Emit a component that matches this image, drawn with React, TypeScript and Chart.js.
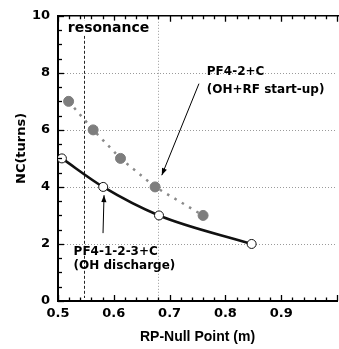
import React, { useEffect, useRef } from "react";
import { Chart, registerables } from "chart.js";

Chart.register(...registerables);

// ---- data ----
const openX = [0.507, 0.581, 0.681, 0.847];
const openY = [5, 4, 3, 2];
const filledX = [0.519, 0.563, 0.612, 0.674, 0.76];
const filledY = [7, 6, 5, 4, 3];
const xTickValues = [0.5, 0.6, 0.7, 0.8, 0.9];
const yTickValues = [0, 2, 4, 6, 8, 10];
const gridYValues = [2, 4, 6, 8];
const resonanceX = 0.547;
const markerX = 0.68;

// annotations (data coordinates)
const resonanceLabel = { text: "resonance", x: 0.5175, y: 9.55 };
const rfLabel = { lines: ["PF4-2+C", "(OH+RF start-up)"], x: 0.7667, y: [8.04, 7.4] };
const rfArrow = { from: [0.7526, 7.62], to: [0.686, 4.41] };
const ohLabel = { lines: ["PF4-1-2-3+C", "(OH discharge)"], x: 0.528, y: [1.71, 1.22] };
const ohArrow = { from: [0.5807, 2.38], to: [0.5825, 3.71] };

const FONT = '"DejaVu Sans", sans-serif';

function drawArrow(ctx: CanvasRenderingContext2D, x0: number, y0: number, x1: number, y1: number) {
  ctx.save();
  ctx.strokeStyle = "#000";
  ctx.fillStyle = "#000";
  ctx.lineWidth = 1;
  ctx.setLineDash([]);
  ctx.beginPath();
  ctx.moveTo(x0, y0);
  ctx.lineTo(x1, y1);
  ctx.stroke();
  const ang = Math.atan2(y1 - y0, x1 - x0);
  const len = 7;
  const hw = 2.6;
  const bx = x1 - len * Math.cos(ang);
  const by = y1 - len * Math.sin(ang);
  ctx.beginPath();
  ctx.moveTo(x1, y1);
  ctx.lineTo(bx + hw * Math.sin(ang), by - hw * Math.cos(ang));
  ctx.lineTo(bx - hw * Math.sin(ang), by + hw * Math.cos(ang));
  ctx.closePath();
  ctx.fill();
  ctx.restore();
}

const decor = {
  id: "decor",
  beforeDatasetsDraw(chart: any) {
    const { ctx, chartArea: a, scales } = chart;
    const x = scales.x;
    const y = scales.y;
    ctx.save();
    ctx.lineWidth = 1;
    ctx.strokeStyle = "#9a9a9a";
    ctx.setLineDash([1, 2]);
    for (const v of gridYValues) {
      const py = Math.round(y.getPixelForValue(v)) + 0.5;
      ctx.beginPath();
      ctx.moveTo(a.left, py);
      ctx.lineTo(a.right, py);
      ctx.stroke();
    }
    const mx = Math.round(x.getPixelForValue(markerX)) + 0.5;
    ctx.beginPath();
    ctx.moveTo(mx, a.top);
    ctx.lineTo(mx, a.bottom);
    ctx.stroke();
    // resonance line
    ctx.strokeStyle = "#222";
    ctx.setLineDash([3, 2]);
    const rx = Math.round(x.getPixelForValue(resonanceX)) + 0.5;
    ctx.beginPath();
    ctx.moveTo(rx, a.top);
    ctx.lineTo(rx, a.bottom - 3);
    ctx.stroke();
    ctx.restore();
  },
  afterDatasetsDraw(chart: any) {
    const { ctx, chartArea: a, scales } = chart;
    const x = scales.x;
    const y = scales.y;
    ctx.save();
    ctx.setLineDash([]);
    ctx.strokeStyle = "#000";
    // top border
    ctx.lineWidth = 1.5;
    ctx.beginPath();
    ctx.moveTo(a.left, a.top);
    ctx.lineTo(a.right + 5, a.top);
    ctx.stroke();
    // x ticks (bottom and top), inward
    ctx.lineWidth = 1.3;
    for (let i = 0; i <= 25; i++) {
      const v = 0.5 + i * 0.02;
      const px = Math.round(x.getPixelForValue(v)) + 0.5;
      const major = i % 5 === 0;
      const len = major ? 6 : 3.5;
      ctx.beginPath();
      ctx.moveTo(px, a.bottom);
      ctx.lineTo(px, a.bottom - len);
      ctx.moveTo(px, a.top);
      ctx.lineTo(px, a.top + len);
      ctx.stroke();
    }
    // y ticks inward
    for (let i = 0; i <= 20; i++) {
      const v = i * 0.5;
      const py = Math.round(y.getPixelForValue(v)) + 0.5;
      const major = i % 4 === 0;
      const len = major ? 6 : 4;
      ctx.beginPath();
      ctx.moveTo(a.left, py);
      ctx.lineTo(a.left + len, py);
      ctx.stroke();
    }
    // resonance label
    ctx.font = `bold 14px ${FONT}`;
    ctx.textBaseline = "middle";
    ctx.textAlign = "left";
    const rlx = x.getPixelForValue(resonanceLabel.x);
    const rly = y.getPixelForValue(resonanceLabel.y);
    const w = ctx.measureText(resonanceLabel.text).width;
    ctx.fillStyle = "#fff";
    ctx.fillRect(rlx - 1, rly - 8, w + 2, 15);
    ctx.fillStyle = "#000";
    ctx.fillText(resonanceLabel.text, rlx, rly);
    // annotation labels
    ctx.font = `bold 12px ${FONT}`;
    rfLabel.lines.forEach((t, i) => {
      ctx.fillText(t, x.getPixelForValue(rfLabel.x), y.getPixelForValue(rfLabel.y[i]));
    });
    ohLabel.lines.forEach((t, i) => {
      ctx.fillText(t, x.getPixelForValue(ohLabel.x), y.getPixelForValue(ohLabel.y[i]));
    });
    drawArrow(
      ctx,
      x.getPixelForValue(rfArrow.from[0]),
      y.getPixelForValue(rfArrow.from[1]),
      x.getPixelForValue(rfArrow.to[0]),
      y.getPixelForValue(rfArrow.to[1])
    );
    drawArrow(
      ctx,
      x.getPixelForValue(ohArrow.from[0]),
      y.getPixelForValue(ohArrow.from[1]),
      x.getPixelForValue(ohArrow.to[0]),
      y.getPixelForValue(ohArrow.to[1])
    );
    // y title
    ctx.save();
    ctx.translate(22, (a.top + a.bottom) / 2 - 10);
    ctx.rotate(-Math.PI / 2);
    ctx.font = `bold 13px ${FONT}`;
    ctx.textAlign = "center";
    ctx.textBaseline = "middle";
    ctx.fillStyle = "#000";
    ctx.fillText("NC(turns)", 0, 0);
    ctx.restore();
    ctx.restore();
  },
};

export default function App() {
  const ref = useRef<HTMLCanvasElement>(null);
  useEffect(() => {
    if (!ref.current) return;
    const chart = new Chart(ref.current, {
      type: "line",
      data: {
        datasets: [
          {
            label: "PF4-2+C",
            data: filledX.map((v, i) => ({ x: v, y: filledY[i] })),
            borderColor: "#8a8a8a",
            borderWidth: 2.5,
            borderDash: [2.5, 6],
            pointRadius: 5,
            pointBackgroundColor: "#7d7d7d",
            pointBorderColor: "#7d7d7d",
            pointBorderWidth: 1,
            tension: 0,
          },
          {
            label: "PF4-1-2-3+C",
            data: openX.map((v, i) => ({ x: v, y: openY[i] })),
            borderColor: "#111",
            borderWidth: 2.6,
            cubicInterpolationMode: "monotone",
            pointRadius: 4.5,
            pointBackgroundColor: "#fff",
            pointBorderColor: "#111",
            pointBorderWidth: 1,
          },
        ],
      },
      options: {
        animation: false,
        responsive: false,
        devicePixelRatio: 1,
        layout: { padding: { top: 15, left: 0, right: 0, bottom: 0 } },
        plugins: { legend: { display: false }, tooltip: { enabled: false } },
        scales: {
          x: {
            type: "linear",
            min: 0.5,
            max: 1.0,
            afterBuildTicks: (s: any) => {
              s.ticks = xTickValues.map((v) => ({ value: v }));
            },
            afterFit: (s: any) => {
              s.height = 48;
            },
            grid: { display: false, drawTicks: false },
            border: { display: true, color: "#000", width: 2 },
            ticks: {
              padding: 5,
              color: "#000",
              font: { family: FONT, weight: "bold", size: 13 },
              maxRotation: 0,
              autoSkip: false,
              callback: (v: any) => Number(v).toFixed(1),
            },
            title: {
              display: true,
              text: "RP-Null Point (m)",
              color: "#000",
              font: { family: '"Liberation Sans", Arial, sans-serif', weight: "bold", size: 14 },
              padding: { top: 0, bottom: 3 },
            },
          },
          y: {
            type: "linear",
            min: 0,
            max: 10,
            afterBuildTicks: (s: any) => {
              s.ticks = yTickValues.map((v) => ({ value: v }));
            },
            afterFit: (s: any) => {
              s.width = 58;
            },
            grid: { display: false, drawTicks: false },
            border: { display: true, color: "#000", width: 2 },
            ticks: {
              padding: 8,
              color: "#000",
              font: { family: FONT, weight: "bold", size: 13 },
              autoSkip: false,
              callback: (v: any) => String(v),
            },
          },
        },
      },
      plugins: [decor],
    } as any);
    return () => chart.destroy();
  }, []);
  return (
    <div style={{ position: "fixed", left: 0, top: 0, width: 339, height: 349, overflow: "hidden", background: "#fff" }}>
      <canvas ref={ref} width={343} height={349} style={{ width: 343, height: 349, display: "block" }} />
    </div>
  );
}
